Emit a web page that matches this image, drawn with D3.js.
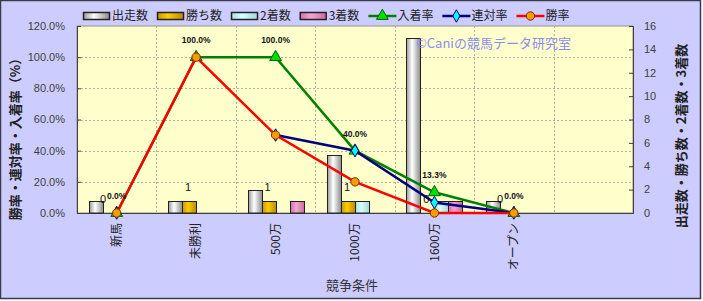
<!DOCTYPE html>
<html>
<head>
<meta charset="utf-8">
<script src="https://cdn.jsdelivr.net/npm/d3@7"></script>
<style>
  body { margin: 0; background: #fff; }
  svg { display: block; }
</style>
</head>
<body>
<script>
// categories (last slot is empty in the original chart)
var categories = ['新馬', '未勝利', '500万', '1000万', '1600万', 'オープン', ''];

// counts (right axis)
var runs   = [1, 1, 2, 5, 15, 1];
var wins   = [0, 1, 1, 1, 0, 0];
var second = [0, 0, 0, 1, 1, 0];
var third  = [0, 0, 1, 0, 1, 0];

// rates in % (left axis)
var placeRate = [0, 100, 100, 40, 13.3, 0];
var quinRate  = [0, null, 50, 40, 6.7, 0];
var winRate   = [0, 100, 50, 20, 0, 0];

var leftTicks  = [0, 20, 40, 60, 80, 100, 120];
var rightTicks = [0, 2, 4, 6, 8, 10, 12, 14, 16];

var W = 703, H = 301;
var plot = { left: 77, right: 633, top: 26, bottom: 213 };
var jp = '"Noto Sans CJK JP", sans-serif';
var num = '"Liberation Sans", Arial, sans-serif';

var svg = d3.select('body').append('svg')
    .attr('width', W).attr('height', H);

var defs = svg.append('defs');
var grad = function(id, stops) {
    var g = defs.append('linearGradient').attr('id', id)
      .attr('x1', '0%').attr('x2', '100%').attr('y1', '0%').attr('y2', '0%');
    stops.forEach(function(s) {
        g.append('stop').attr('offset', s[0]).attr('stop-color', s[1]);
    });
};
grad('gRuns',  [['0%', '#9a9a9a'], ['40%', '#ffffff'], ['100%', '#8a8a8a']]);
grad('gWins',  [['0%', '#c89a00'], ['40%', '#ffcc00'], ['100%', '#b88a00']]);
grad('gSec',   [['0%', '#a8e0e0'], ['40%', '#d8ffff'], ['100%', '#a0d8d8']]);
grad('gThird', [['0%', '#d070a8'], ['40%', '#f4a8d0'], ['100%', '#c86aa0']]);

// chart background + frame
svg.append('rect').attr('x', 0.5).attr('y', 0.5).attr('width', W - 3).attr('height', H - 3)
    .attr('fill', '#ccccff').attr('stroke', '#3a3a48').attr('stroke-width', 1.5);

svg.append('rect')
    .attr('x', plot.left).attr('y', plot.top)
    .attr('width', plot.right - plot.left).attr('height', plot.bottom - plot.top)
    .attr('fill', '#ffffcc').attr('stroke', '#909090');

var x = d3.scaleBand().domain(categories).range([plot.left, plot.right]);
var yL = d3.scaleLinear().domain([0, 120]).range([plot.bottom, plot.top]);
var yR = d3.scaleLinear().domain([0, 16]).range([plot.bottom, plot.top]);
var cx = function(i) { return x(categories[i]) + x.bandwidth() / 2; };

// grid
var grid = svg.append('g').attr('stroke', '#b0b0a0').attr('stroke-dasharray', '2,2');
leftTicks.slice(1, -1).forEach(function(t) {
    grid.append('line').attr('x1', plot.left).attr('x2', plot.right)
      .attr('y1', Math.round(yL(t)) + 0.5).attr('y2', Math.round(yL(t)) + 0.5);
});
categories.slice(1).forEach(function(c) {
    grid.append('line').attr('x1', Math.round(x(c)) + 0.5).attr('x2', Math.round(x(c)) + 0.5)
      .attr('y1', plot.top).attr('y2', plot.bottom);
});

// axes
var axL = svg.append('g').attr('transform', 'translate(' + plot.left + ',0)')
    .call(d3.axisRight(yL).tickValues(leftTicks).tickSize(4).tickFormat(''));
var axR = svg.append('g').attr('transform', 'translate(' + plot.right + ',0)')
    .call(d3.axisLeft(yR).tickValues(rightTicks).tickSize(4).tickFormat(''));
var axB = svg.append('g').attr('transform', 'translate(0,' + plot.bottom + ')')
    .call(d3.axisBottom(x).tickSize(0).tickFormat(''));
[axL, axR, axB].forEach(function(a) {
    a.selectAll('path,line').attr('stroke', '#404040');
});

svg.append('g').selectAll('text').data(leftTicks).enter().append('text')
    .attr('x', 65).attr('y', function(d) { return yL(d); }).attr('dy', '0.35em')
    .attr('text-anchor', 'end').attr('font-family', num).attr('font-size', 11)
    .attr('fill', '#404040').text(function(d) { return d.toFixed(1) + '%'; });
svg.append('g').selectAll('text').data(rightTicks).enter().append('text')
    .attr('x', 644).attr('y', function(d) { return yR(d); }).attr('dy', '0.35em')
    .attr('font-family', num).attr('font-size', 11)
    .attr('fill', '#404040').text(function(d) { return d; });

svg.append('g').selectAll('text').data(categories).enter().append('text')
    .attr('transform', function(d) { return 'translate(' + (x(d) + x.bandwidth() / 2) + ',223) rotate(-90)'; })
    .attr('dy', '0.35em')
    .attr('text-anchor', 'end').attr('font-family', jp).attr('font-size', 12)
    .attr('fill', '#222').text(function(d) { return d; });

svg.append('text').attr('x', 352).attr('y', 290).attr('text-anchor', 'middle')
    .attr('font-family', jp).attr('font-size', 13).attr('fill', '#333').text('競争条件');
svg.append('text').attr('transform', 'translate(20,136) rotate(-90)').attr('text-anchor', 'middle')
    .attr('font-family', jp).attr('font-size', 13).attr('font-weight', 'bold').attr('fill', '#222')
    .text('勝率・連対率・入着率（%）');
svg.append('text').attr('transform', 'translate(686,136) rotate(-90)').attr('text-anchor', 'middle')
    .attr('font-family', jp).attr('font-size', 13).attr('font-weight', 'bold').attr('fill', '#222')
    .text('出走数・勝ち数・2着数・3着数');

// bars
var barSeries = [
    { name: '出走数', values: runs, fill: 'url(#gRuns)' },
    { name: '勝ち数', values: wins, fill: 'url(#gWins)' },
    { name: '2着数', values: second, fill: 'url(#gSec)' },
    { name: '3着数', values: third, fill: 'url(#gThird)' }
];
var sub = d3.scaleBand().domain(d3.range(barSeries.length)).range([-28, 28]);
barSeries.forEach(function(s, si) {
    var idx = d3.range(s.values.length).filter(function(i) { return s.values[i] > 0; });
    svg.append('g').selectAll('rect').data(idx).enter()
      .append('rect')
        .attr('x', function(i) { return Math.round(cx(i) + sub(si)) + 0.5; })
        .attr('y', function(i) { return Math.round(yR(s.values[i])) + 0.5; })
        .attr('width', sub.bandwidth())
        .attr('height', function(i) { return yR(0) - Math.round(yR(s.values[i])) - 0.5; })
        .attr('fill', s.fill).attr('stroke', '#222');
});

// watermark (drawn over the bars, as in the original)
svg.append('text').attr('x', 416).attr('y', 48).attr('font-family', jp).attr('font-size', 13)
    .attr('fill', '#8c8cf0').text('©Caniの競馬データ研究室');

// lines
var lineSeries = [
    { name: '入着率', values: placeRate, color: '#008000', marker: 'tri', mfill: '#00dd00', mstroke: '#006000' },
    { name: '連対率', values: quinRate, color: '#000080', marker: 'dia', mfill: '#00ffff', mstroke: '#000060' },
    { name: '勝率', values: winRate, color: '#ff0000', marker: 'cir', mfill: '#ff9900', mstroke: '#703000' }
];
var symbolFor = function(m) {
    if (m === 'tri') { return d3.symbol().type(d3.symbolTriangle).size(60)(); }
    if (m === 'dia') { return d3.symbol().type(d3.symbolDiamond).size(45)(); }
    return d3.symbol().type(d3.symbolCircle).size(55)();
};
var drawMarker = function(g, s, px, py) {
    g.append('path').attr('d', symbolFor(s.marker))
      .attr('transform', 'translate(' + px + ',' + py + ')')
      .attr('fill', s.mfill).attr('stroke', s.mstroke).attr('stroke-width', 1);
};
lineSeries.forEach(function(s) {
    var line = d3.line()
      .defined(function(d) { return d !== null; })
      .x(function(d, i) { return cx(i); })
      .y(function(d) { return yL(d); });
    var g = svg.append('g');
    g.append('path').datum(s.values).attr('d', line)
      .attr('fill', 'none').attr('stroke', s.color).attr('stroke-width', 2.5);
    s.values.forEach(function(v, i) {
        if (v !== null) { drawMarker(g, s, cx(i), yL(v)); }
    });
});

// place-rate labels
var rateLabels = svg.append('g').selectAll('text').data(placeRate).enter().append('text')
    .attr('x', function(d, i) { return cx(i); })
    .attr('y', function(d) { return yL(d) - 14; })
    .attr('text-anchor', 'middle').attr('font-family', num).attr('font-size', 8.5)
    .attr('font-weight', 'bold').attr('fill', '#111')
    .text(function(d) { return d.toFixed(1) + '%'; });

// win count labels; nudged left where they would sit on top of a rate label
var rateBoxes = rateLabels.nodes().map(function(n) { return n.getBBox(); });
svg.append('g').selectAll('text').data(wins).enter().append('text')
    .attr('x', function(d, i) { return cx(i) + sub(1) + sub.bandwidth() / 2 - 1; })
    .attr('y', function(d) { return yR(d) - 10; })
    .attr('text-anchor', 'middle').attr('font-family', num).attr('font-size', 11)
    .attr('fill', '#111').text(function(d) { return d; })
    .each(function(d, i) {
        var b = this.getBBox(), r = rateBoxes[i];
        var hit = b.x < r.x + r.width && b.x + b.width > r.x &&
                  b.y < r.y + r.height && b.y + b.height > r.y;
        if (hit) {
            d3.select(this).attr('x', r.x - b.width / 2 - 1);
        }
    });

// legend
var legend = svg.append('g').attr('transform', 'translate(83,16)');
var lx = 0;
barSeries.concat(lineSeries).forEach(function(s) {
    var g = legend.append('g').attr('transform', 'translate(' + lx + ',0)');
    if (s.fill) {
        g.append('rect').attr('x', 0.5).attr('y', -3.5).attr('width', 26).attr('height', 7)
          .attr('fill', s.fill).attr('stroke', '#222').attr('stroke-width', 1.5);
    } else {
        g.append('line').attr('x1', 0).attr('x2', 28).attr('y1', 0).attr('y2', 0)
          .attr('stroke', s.color).attr('stroke-width', 2.5);
        drawMarker(g, s, 14, 0);
    }
    var t = g.append('text').attr('x', 29).attr('y', 0).attr('dy', '0.35em')
      .attr('font-family', jp).attr('font-size', 12).attr('fill', '#222').text(s.name);
    lx += 29 + t.node().getComputedTextLength() + 9;
});
</script>
</body>
</html>
